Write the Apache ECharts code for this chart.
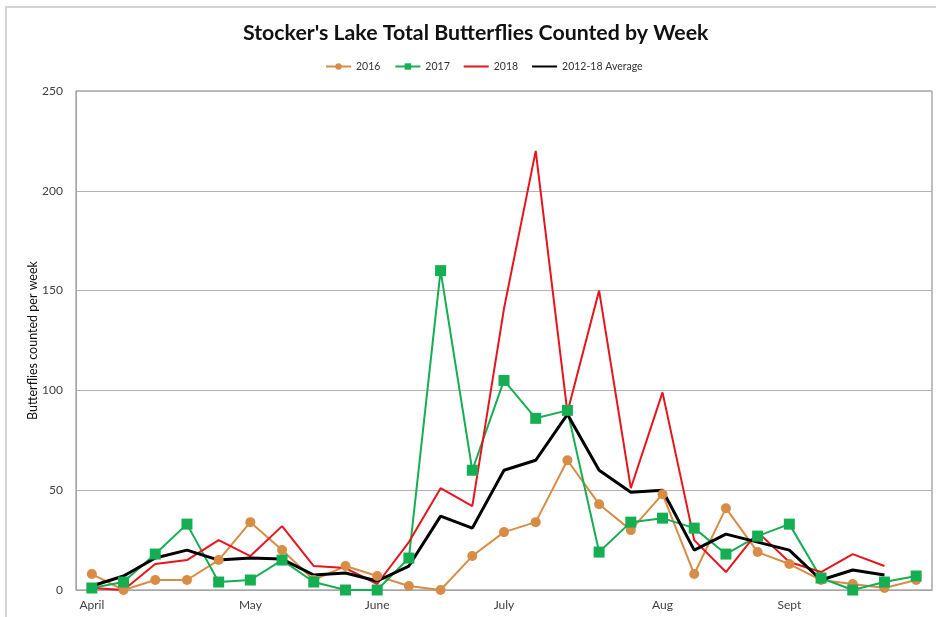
<!DOCTYPE html>
<html>
<head>
<meta charset="utf-8">
<script src="https://cdn.jsdelivr.net/npm/echarts@6/dist/echarts.min.js"></script>
<style>
  html, body { margin: 0; padding: 0; background: #fff; }
  #chart { width: 936px; height: 617px; }
</style>
</head>
<body>
<div id="chart"></div>
<script>
// weekly counts, April .. Sept (27 weeks)
var weeks = ['April', '', '', '', '', 'May', '', '', '', 'June', '', '', '', 'July', '', '', '', '',
  'Aug', '', '', '', 'Sept', '', '', '', ''];

var y2016 = [8, 0, 5, 5, 15, 34, 20, 5, 12, 7, 2, 0, 17, 29, 34, 65, 43, 30, 48, 8, 41, 19, 13, 5, 3, 1, 5];
var y2017 = [1, 4, 18, 33, 4, 5, 15, 4, 0, 0, 16, 160, 60, 105, 86, 90, 19, 34, 36, 31, 18, 27, 33, 6, 0, 4, 7];
var y2018 = [1, 0, 13, 15, 25, 17, 32, 12, 11, 3, 24, 51, 42, 141, 220, 89, 150, 51, 99, 25, 9, 29, 14, 9, 18, 12, null];
var avg = [2, 7, 16, 20, 15, 16, 15.5, 7.5, 8.5, 4.5, 12, 37, 31, 60, 65, 88, 60, 49, 50, 20, 28, 24, 20, 5, 10, 7.5, null];

// plain line for the legend of series drawn without markers
var lineIcon = 'path://M0,0L26,0L26,0.01Z M0,3L26,3L26,5L0,5Z M0,8L26,8L26,8.01Z';

var chart = echarts.init(document.getElementById('chart'), null, { renderer: 'canvas' });

var option = {
  backgroundColor: '#fff',
  animation: false,
  textStyle: { fontFamily: 'Lato' },
  graphic: [{
    type: 'rect',
    shape: { x: 6, y: 7, width: 940, height: 620 },
    style: { fill: 'none', stroke: '#c8c8c8', lineWidth: 1.5 },
    silent: true
  }],
  title: {
    text: "Stocker's Lake Total Butterflies Counted by Week",
    left: 238,
    top: 18,
    textStyle: { fontSize: 21.3, fontWeight: 'bold', color: '#111', fontFamily: 'Lato' }
  },
  legend: {
    top: 56,
    left: 320,
    itemWidth: 25,
    itemHeight: 8,
    itemGap: 14,
    textStyle: { fontSize: 10.5, color: '#333' },
    data: [
      { name: '2016' },
      { name: '2017' },
      { name: '2018', icon: lineIcon },
      { name: '2012-18 Average', icon: lineIcon }
    ]
  },
  grid: {
    left: 76,
    right: 4,
    top: 91,
    bottom: 27,
    show: true,
    borderColor: '#7f7f7f',
    borderWidth: 1
  },
  xAxis: {
    type: 'category',
    data: weeks,
    boundaryGap: true,
    axisLine: { lineStyle: { color: '#a6a6a6', width: 1 } },
    axisTick: { alignWithLabel: true, interval: 0, length: 4, lineStyle: { color: '#a6a6a6' } },
    axisLabel: { interval: 0, color: '#404040', fontSize: 12, margin: 9 }
  },
  yAxis: {
    type: 'value',
    min: 0,
    max: 250,
    interval: 50,
    name: 'Butterflies counted per week',
    nameLocation: 'middle',
    nameGap: 37,
    nameMoveOverlap: false,
    nameTextStyle: { fontSize: 12.5, color: '#111' },
    axisLine: { show: true, lineStyle: { color: '#a6a6a6' } },
    axisTick: { show: false },
    axisLabel: { color: '#404040', fontSize: 12, margin: 13 },
    splitLine: { lineStyle: { color: '#b4b4b4', width: 1 } }
  },
  series: [
    {
      name: '2016', type: 'line', data: y2016,
      symbol: 'circle', symbolSize: 10,
      itemStyle: { color: '#d98c45' },
      lineStyle: { width: 2, color: '#d98c45' }
    },
    {
      name: '2017', type: 'line', data: y2017,
      symbol: 'rect', symbolSize: 11,
      itemStyle: { color: '#16ae52' },
      lineStyle: { width: 2, color: '#16ae52' }
    },
    {
      name: '2018', type: 'line', data: y2018,
      symbol: 'none',
      itemStyle: { color: '#e8141b' },
      lineStyle: { width: 2, color: '#e8141b' }
    },
    {
      name: '2012-18 Average', type: 'line', data: avg,
      symbol: 'none',
      itemStyle: { color: '#000' },
      lineStyle: { width: 3, color: '#000' }
    }
  ]
};

chart.setOption(option);
</script>
</body>
</html>
